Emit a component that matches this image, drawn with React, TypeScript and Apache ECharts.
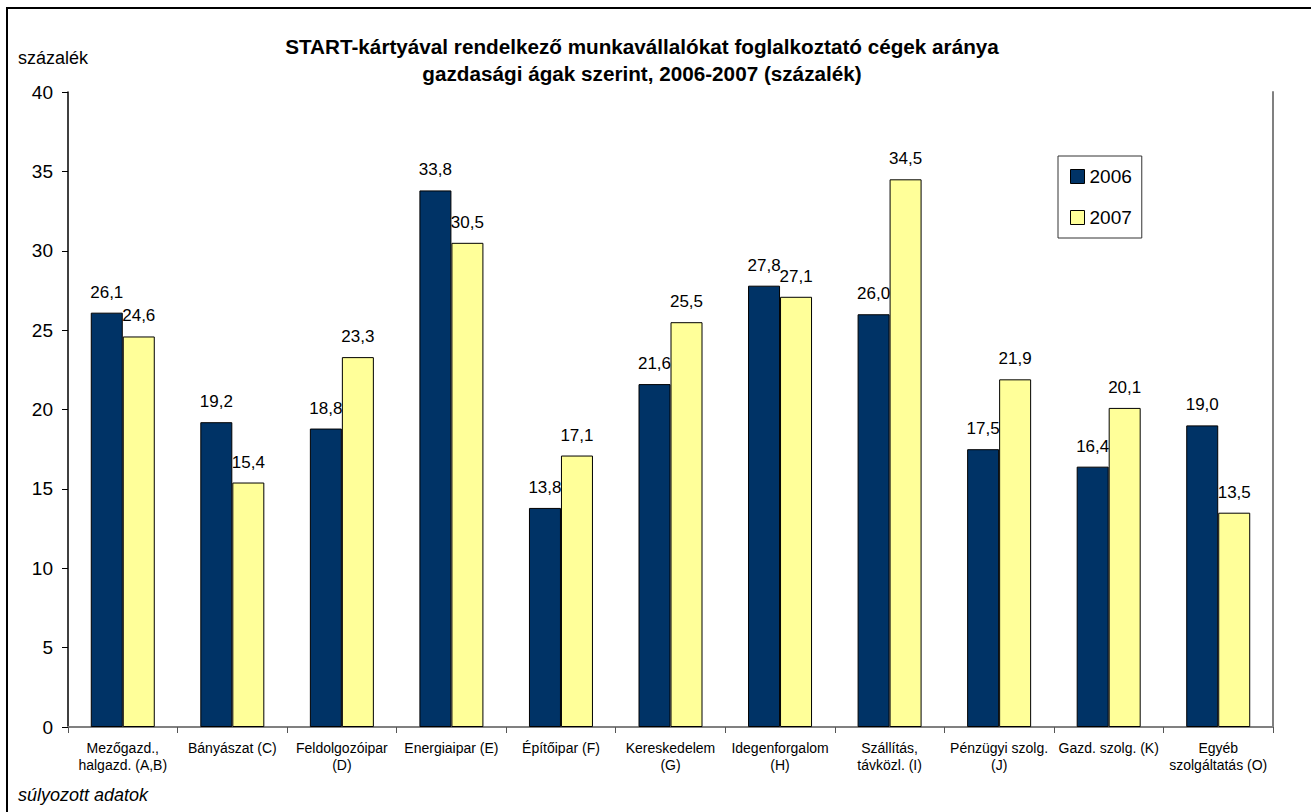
import React, { useEffect, useRef } from "react";
import * as echarts from "echarts";

const titleLines = [
  "START-kártyával rendelkező munkavállalókat foglalkoztató cégek aránya",
  "gazdasági ágak szerint, 2006-2007 (százalék)",
];
const yAxisName = "százalék";
const footnote = "súlyozott adatok";
const categories = [
  "Mezőgazd.,\nhalgazd. (A,B)",
  "Bányászat (C)",
  "Feldolgozóipar\n(D)",
  "Energiaipar (E)",
  "Építőipar (F)",
  "Kereskedelem\n(G)",
  "Idegenforgalom\n(H)",
  "Szállítás,\ntávközl. (I)",
  "Pénzügyi szolg.\n(J)",
  "Gazd. szolg. (K)",
  "Egyéb\nszolgáltatás (O)",
];
const seriesNames = ["2006", "2007"];
const values2006 = [26.1, 19.2, 18.8, 33.8, 13.8, 21.6, 27.8, 26.0, 17.5, 16.4, 19.0];
const values2007 = [24.6, 15.4, 23.3, 30.5, 17.1, 25.5, 27.1, 34.5, 21.9, 20.1, 13.5];
const yMin = 0;
const yMax = 40;
const yInterval = 5;

const FONT = "Arial, 'Liberation Sans', Helvetica, sans-serif";

export default function App() {
  const ref = useRef<HTMLDivElement>(null);
  useEffect(() => {
    if (!ref.current) return;
    const chart = echarts.init(ref.current, null, { renderer: "svg" });
    const fmt = (p: any) => Number(p.value).toFixed(1).replace(".", ",");
    const label = {
      show: true,
      position: "top",
      distance: 12,
      formatter: fmt,
      fontSize: 17,
      color: "#000",
      fontFamily: FONT,
    };
    chart.setOption({
      animation: false,
      backgroundColor: "#fff",
      textStyle: { fontFamily: FONT },
      grid: { left: 68, right: 38, top: 92, bottom: 85, containLabel: false },
      legend: {
        orient: "vertical",
        left: 1058,
        top: 156,
        data: seriesNames,
        icon: "rect",
        itemWidth: 14,
        itemHeight: 14,
        itemGap: 22,
        padding: [11, 10, 11, 12],
        borderColor: "#333",
        borderWidth: 1,
        textStyle: { fontSize: 19, color: "#000", fontFamily: FONT },
        itemStyle: { borderColor: "#000", borderWidth: 1 },
      },
      graphic: [
        {
          type: "rect",
          z: -10,
          shape: { x: 7, y: 8, width: 1320, height: 830 },
          style: { fill: "none", stroke: "#000", lineWidth: 2 },
        },
        {
          type: "text",
          x: 642,
          y: 46,
          style: {
            text: titleLines[0],
            textAlign: "center",
            textVerticalAlign: "middle",
            font: `bold 20.7px ${FONT}`,
            fill: "#000",
          },
        },
        {
          type: "text",
          x: 642,
          y: 73,
          style: {
            text: titleLines[1],
            textAlign: "center",
            textVerticalAlign: "middle",
            font: `bold 20.7px ${FONT}`,
            fill: "#000",
          },
        },
        {
          type: "text",
          x: 18,
          y: 58,
          style: {
            text: yAxisName,
            textAlign: "left",
            textVerticalAlign: "middle",
            font: `18px ${FONT}`,
            fill: "#000",
          },
        },
        {
          type: "text",
          x: 18,
          y: 795,
          style: {
            text: footnote,
            textAlign: "left",
            textVerticalAlign: "middle",
            font: `italic 18px ${FONT}`,
            fill: "#000",
          },
        },
      ],
      xAxis: [
        {
          type: "category",
          data: categories,
          axisLine: { show: true, lineStyle: { color: "#808080", width: 2 } },
          axisTick: { show: true, length: 6, alignWithLabel: false, lineStyle: { color: "#555" } },
          axisLabel: {
            interval: 0,
            margin: 12,
            fontSize: 14,
            lineHeight: 17,
            color: "#000",
            fontFamily: FONT,
          },
          splitLine: { show: false },
        },
        {
          type: "category",
          data: categories,
          position: "top",
          axisLine: { show: true, lineStyle: { color: "#808080", width: 2 } },
          axisTick: { show: false },
          axisLabel: { show: false },
        },
      ],
      yAxis: [
        {
          type: "value",
          min: yMin,
          max: yMax,
          interval: yInterval,
          axisLine: { show: true, lineStyle: { color: "#000", width: 1.5 } },
          axisTick: { show: true, inside: false, length: 6, lineStyle: { color: "#000" } },
          axisLabel: { margin: 15, fontSize: 19, color: "#000", fontFamily: FONT },
          splitLine: { show: false },
        },
        {
          type: "value",
          min: yMin,
          max: yMax,
          interval: yInterval,
          position: "right",
          axisLine: { show: true, lineStyle: { color: "#808080", width: 2 } },
          axisTick: { show: false },
          axisLabel: { show: false },
          splitLine: { show: false },
        },
      ],
      series: [
        {
          name: seriesNames[0],
          type: "bar",
          data: values2006,
          barWidth: 32,
          barGap: "0%",
          itemStyle: { color: "#003366", borderColor: "#000", borderWidth: 1 },
          label,
        },
        {
          name: seriesNames[1],
          type: "bar",
          data: values2007,
          barWidth: 32,
          barGap: "0%",
          itemStyle: { color: "#FFFF99", borderColor: "#000", borderWidth: 1 },
          label,
        },
      ],
    });
    return () => chart.dispose();
  }, []);
  return (
    <div
      ref={ref}
      style={{ position: "absolute", left: 0, top: 0, width: 1311, height: 812 }}
    />
  );
}
